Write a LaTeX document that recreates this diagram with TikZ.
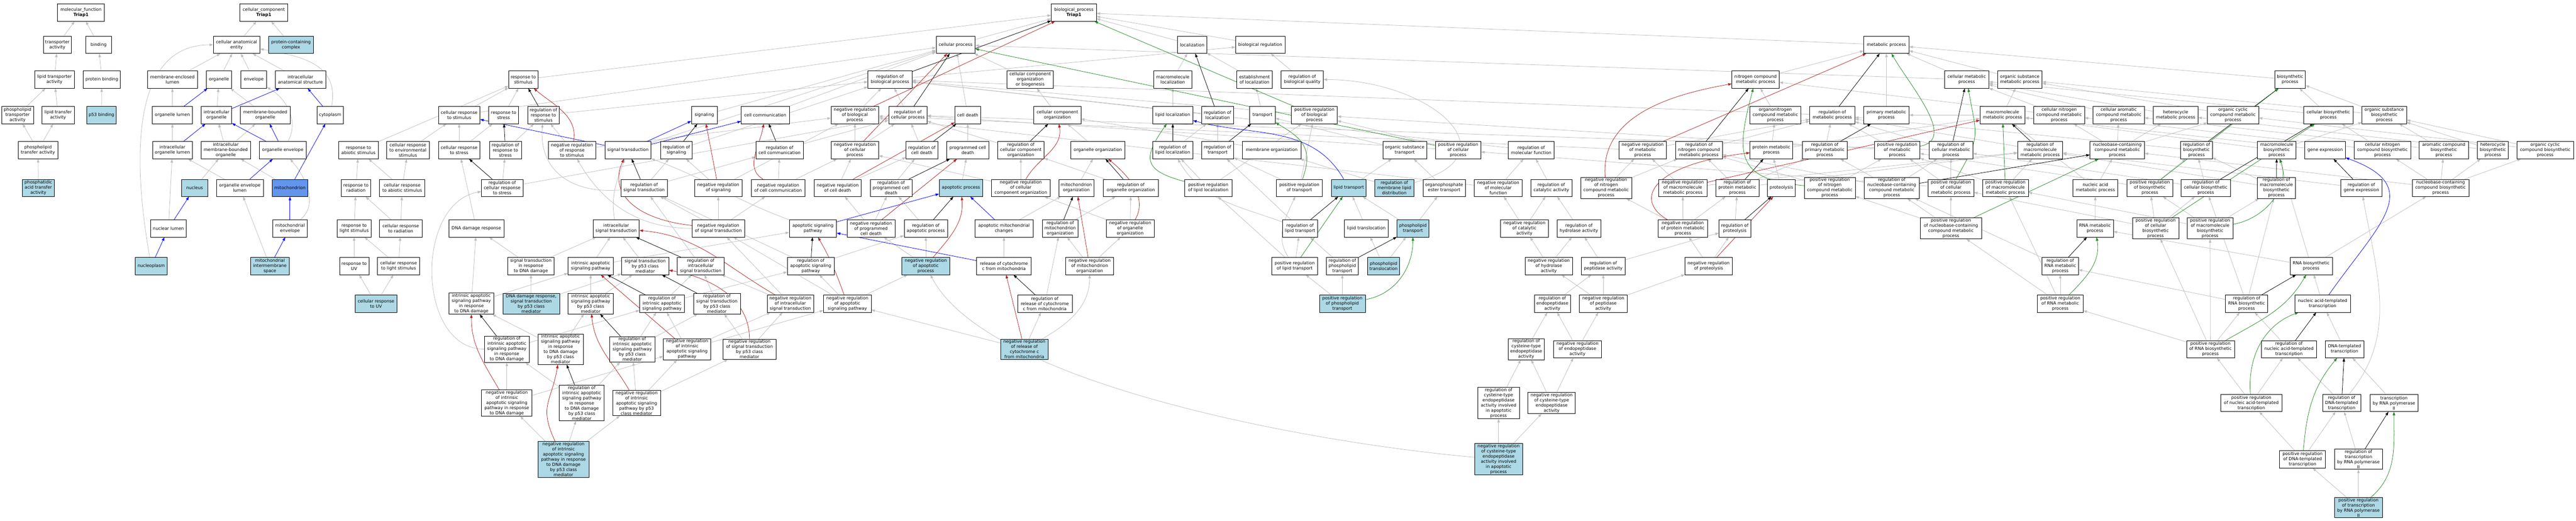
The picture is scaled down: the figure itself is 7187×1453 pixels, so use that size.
\documentclass[tikz,border=0pt]{standalone}
\usepackage{fontspec}
\setmainfont{DejaVu Sans}
\usetikzlibrary{arrows.meta}
\definecolor{hitblue}{RGB}{173,216,230}
\definecolor{focusblue}{RGB}{100,149,237}
\definecolor{isagray}{RGB}{190,190,190}
\definecolor{negred}{RGB}{178,34,34}
\definecolor{posgreen}{RGB}{34,139,34}
\pgfdeclarelayer{back}
\pgfsetlayers{back,main}

\begin{document}
\begin{tikzpicture}[x=1pt, y=-1pt,
    term/.style={rectangle, draw=black, line width=0.9pt, fill=white, align=center,
        inner xsep=3pt, inner ysep=2pt, minimum height=48pt, minimum width=#1,
        font=\fontsize{12}{14.4}\selectfont},
    term/.default=80,
    hit/.style={term=#1, fill=hitblue},
    hit/.default=80,
    focusterm/.style={term=#1, fill=focusblue},
    link/.style={line width=1.1pt, -{Triangle[length=10pt,width=7pt]}},
    isa/.style={link, draw=isagray},
    partof/.style={link, draw=blue},
    regl/.style={link, draw=black},
    negreg/.style={link, draw=negred},
    posreg/.style={link, draw=posgreen}]
\useasboundingbox (0,0) rectangle (7187,1453);

% roots
\node[term=131] (mf) at (226,35) {molecular\_function\\\textbf{Triap1}};
\node[term=134] (cc) at (736,35) {cellular\_component\\\textbf{Triap1}};
\node[term=126] (bp) at (2996,35) {biological\_process\\\textbf{Triap1}};

% rank 2
\node[term=79] (ta) at (160,125) {transporter\\activity};
\node[term=72] (bnd) at (275,125) {binding};
\node[term=130] (cae) at (660,125) {cellular anatomical\\entity};
\node[hit=125] (pcc) at (812,125) {protein-containing\\complex};
\node[term=109] (cp) at (2666,125) {cellular process};
\node[term=81] (loc) at (3326,125) {localization};
\node[term=138] (breg) at (3516,125) {biological regulation};
\node[term=126] (mp) at (5263,125) {metabolic process};

% rank 3
\node[term=111] (lta) at (152,222) {lipid transporter\\activity};
\node[term=103] (pb) at (284,222) {protein binding};
\node[term=139] (mel) at (481,222) {membrane-enclosed\\lumen};
\node[term=71] (org) at (611,222) {organelle};
\node[term=72] (env) at (708,222) {envelope};
\node[term=141] (ias) at (838,222) {intracellular\\anatomical structure};
\node[term=82] (rst) at (1460,222) {response to\\stimulus};
\node[term=123] (rbp) at (2483,222) {regulation of\\biological process};
\node[term=130] (ccob) at (2874,222) {cellular component\\organization\\or biogenesis};
\node[term=106] (mloc) at (3272,222) {macromolecule\\localization};
\node[term=99] (eloc) at (3500,222) {establishment\\of localization};
\node[term=118] (rbq) at (3633,222) {regulation of\\biological quality};
\node[term=132] (ncmp) at (4898,222) {nitrogen compound\\metabolic process};
\node[term=124] (cmp) at (5487,222) {cellular metabolic\\process};
\node[term=125] (osmp) at (5635,222) {organic substance\\metabolic process};
\node[term=86] (bsp) at (6389,222) {biosynthetic\\process};

% rank 4
\node[term=89] (pta) at (49,321) {phospholipid\\transporter\\activity};
\node[term=90] (lfa) at (162,321) {lipid transfer\\activity};
\node[hit=83] (p53b) at (283,321) {p53 binding};
\node[term=112] (ol) at (481,321) {organelle lumen};
\node[term=85] (io) at (604,321) {intracellular\\organelle};
\node[term=139] (mbo) at (740,321) {membrane-bounded\\organelle};
\node[term=74] (cyt) at (921,321) {cytoplasm};
\node[term=116] (crs) at (1281,321) {cellular response\\to stimulus};
\node[term=83] (rstr) at (1405,321) {response to\\stress};
\node[term=88] (rrs) at (1516,321) {regulation of\\response to\\stimulus};
\node[term=72] (sig) at (1965,321) {signaling};
\node[term=134] (ccom) at (2135,321) {cell communication};
\node[term=133] (nrbp) at (2385,321) {negative regulation\\of biological\\process};
\node[term=107] (rcp) at (2533,321) {regulation of\\cellular process};
\node[term=72] (cd) at (2700,321) {cell death};
\node[term=131] (cco) at (2950,321) {cellular component\\organization};
\node[term=112] (lloc) at (3272,321) {lipid localization};
\node[term=90] (rloc) at (3397,321) {regulation of\\localization};
\node[term=72] (tr) at (3522,321) {transport};
\node[term=128] (prbp) at (3667,321) {positive regulation\\of biological\\process};
\node[term=142] (oncmp) at (4953,321) {organonitrogen\\compound metabolic\\process};
\node[term=126] (rmp) at (5112,321) {regulation of\\metabolic process};
\node[term=127] (pmp) at (5263,321) {primary metabolic\\process};
\node[term=126] (mmp) at (5587,321) {macromolecule\\metabolic process};
\node[term=141] (cncmp) at (5745,321) {cellular nitrogen\\compound metabolic\\process};
\node[term=143] (cacmp) at (5911,321) {cellular aromatic\\compound metabolic\\process};
\node[term=125] (hmp) at (6070,321) {heterocycle\\metabolic process};
\node[term=143] (occmp) at (6230,321) {organic cyclic\\compound metabolic\\process};
\node[term=138] (cbp) at (6496,321) {cellular biosynthetic\\process};
\node[term=124] (osbp) at (6652,321) {organic substance\\biosynthetic\\process};

% rank 5
\node[term=110] (pfa) at (106,419) {phospholipid\\transfer activity};
\node[term=110] (iol) at (481,419) {intracellular\\organelle lumen};
\node[term=138] (imbo) at (630,419) {intracellular\\membrane-bounded\\organelle};
\node[term=131] (oe) at (789,419) {organelle envelope};
\node[term=110] (ras) at (1000,419) {response to\\abiotic stimulus};
\node[term=119] (cres) at (1138,419) {cellular response\\to environmental\\stimulus};
\node[term=116] (crst) at (1281,419) {cellular response\\to stress};
\node[term=89] (rrstr) at (1410,419) {regulation of\\response to\\stress};
\node[term=132] (nrrs) at (1596,419) {negative regulation\\of response\\to stimulus};
\node[term=129] (st) at (1752,419) {signal transduction};
\node[term=88] (rsig) at (1887,419) {regulation of\\signaling};
\node[term=133] (rcc) at (2175,419) {regulation of\\cell communication};
\node[term=133] (nrcp) at (2385,419) {negative regulation\\of cellular\\process};
\node[term=88] (rcd) at (2572,419) {regulation of\\cell death};
\node[term=117] (pcd) at (2700,419) {programmed cell\\death};
\node[term=130] (rcco) at (2848,419) {regulation of\\cellular component\\organization};
\node[term=151] (oo) at (3063,419) {organelle organization};
\node[term=112] (rlloc) at (3272,419) {regulation of\\lipid localization};
\node[term=90] (rtr) at (3397,419) {regulation of\\transport};
\node[term=163] (mo) at (3548,419) {membrane organization};
\node[term=122] (ost) at (3919,419) {organic substance\\transport};
\node[term=127] (prcp) at (4068,419) {positive regulation\\of cellular\\process};
\node[term=128] (rmf) at (4272,419) {regulation of\\molecular function};
\node[term=133] (nrmp) at (4583,419) {negative regulation\\of metabolic\\process};
\node[term=130] (rncmp) at (4740,419) {regulation of\\nitrogen compound\\metabolic process};
\node[term=119] (protmp) at (4942,419) {protein metabolic\\process};
\node[term=126] (rpmp) at (5091,419) {regulation of\\primary metabolic\\process};
\node[term=127] (prmp) at (5293,419) {positive regulation\\of metabolic\\process};
\node[term=122] (rcmp) at (5443,419) {regulation of\\cellular metabolic\\process};
\node[term=126] (rmmp) at (5692,419) {regulation of\\macromolecule\\metabolic process};
\node[term=152] (nccmp) at (5907,419) {nucleobase-containing\\compound metabolic\\process};
\node[term=88] (rbsp) at (6128,419) {regulation of\\biosynthetic\\process};
\node[term=108] (mbsp) at (6352,419) {macromolecule\\biosynthetic\\process};
\node[term=113] (ge) at (6487,419) {gene expression};
\node[term=157] (cncbp) at (6647,419) {cellular nitrogen\\compound biosynthetic\\process};
\node[term=137] (acbp) at (6818,419) {aromatic compound\\biosynthetic\\process};
\node[term=86] (hbp) at (6955,419) {heterocycle\\biosynthetic\\process};
\node[term=158] (occbp) at (7101,419) {organic cyclic\\compound biosynthetic\\process};

% rank 6
\node[hit=90] (patfa) at (107,524) {phosphatidic\\acid transfer\\activity};
\node[hit=72] (nuc) at (543,524) {nucleus};
\node[term=131] (oel) at (669,524) {organelle envelope\\lumen};
\node[focusterm=99] (mito) at (809,524) {mitochondrion};
\node[term=82] (rrad) at (993,524) {response to\\radiation};
\node[term=126] (cras) at (1122,524) {cellular response\\to abiotic stimulus};
\node[term=116] (rcrs) at (1401,524) {regulation of\\cellular response\\to stress};
\node[term=130] (rsigt) at (1797,524) {regulation of\\signal transduction};
\node[term=132] (nrsig) at (2004,524) {negative regulation\\of signaling};
\node[term=150] (nrcc) at (2171,524) {negative regulation\\of cell communication};
\node[term=132] (nrcd) at (2337,524) {negative regulation\\of cell death};
\node[term=117] (rpcd) at (2486,524) {regulation of\\programmed cell\\death};
\node[hit=121] (ap) at (2681,524) {apoptotic process};
\node[term=164] (nrcco) at (2848,524) {negative regulation\\of cellular\\component organization};
\node[term=98] (mio) at (3003,524) {mitochondrion\\organization};
\node[term=153] (roo) at (3155,524) {regulation of\\organelle organization};
\node[term=132] (prlloc) at (3371,524) {positive regulation\\of lipid localization};
\node[term=128] (prtr) at (3625,524) {positive regulation\\of transport};
\node[hit=97] (lt) at (3763,524) {lipid transport};
\node[hit=109] (rmld) at (3890,524) {regulation of\\membrane lipid\\distribution};
\node[term=118] (oet) at (4029,524) {organophosphate\\ester transport};
\node[term=133] (nrmf) at (4180,524) {negative regulation\\of molecular\\function};
\node[term=115] (rca) at (4328,524) {regulation of\\catalytic activity};
\node[term=142] (nrncmp) at (4481,524) {negative regulation\\of nitrogen\\compound metabolic\\process};
\node[term=134] (nrmmp) at (4695,524) {negative regulation\\of macromolecule\\metabolic process};
\node[term=121] (rprotmp) at (4847,524) {regulation of\\protein metabolic\\process};
\node[term=78] (prot) at (4970,524) {proteolysis};
\node[term=142] (prncmp) at (5105,524) {positive regulation\\of nitrogen\\compound metabolic\\process};
\node[term=153] (rnccmp) at (5278,524) {regulation of\\nucleobase-containing\\compound metabolic\\process};
\node[term=128] (prcmp) at (5443,524) {positive regulation\\of cellular\\metabolic process};
\node[term=128] (prmmp) at (5595,524) {positive regulation\\of macromolecule\\metabolic process};
\node[term=125] (namp) at (5846,524) {nucleic acid\\metabolic process};
\node[term=127] (prbsp) at (5998,524) {positive regulation\\of biosynthetic\\process};
\node[term=139] (rcbp) at (6154,524) {regulation of\\cellular biosynthetic\\process};
\node[term=107] (rmbsp) at (6351,524) {regulation of\\macromolecule\\biosynthetic\\process};
\node[term=114] (rge) at (6588,524) {regulation of\\gene expression};
\node[term=158] (ncbp) at (6809,524) {nucleobase-containing\\compound biosynthetic\\process};

% rank 7
\node[term=99] (nl) at (470,637) {nuclear lumen};
\node[term=96] (menv) at (809,637) {mitochondrial\\envelope};
\node[term=94] (rls) at (988,637) {response to\\light stimulus};
\node[term=118] (crrad) at (1118,637) {cellular response\\to radiation};
\node[term=154] (ddr) at (1329,637) {DNA damage response};
\node[term=129] (ist) at (1719,637) {intracellular\\signal transduction};
\node[term=146] (nrst) at (2004,637) {negative regulation\\of signal transduction};
\node[term=132] (asp) at (2268,637) {apoptotic signaling\\pathway};
\node[term=134] (nrpcd) at (2430,637) {negative regulation\\of programmed\\cell death};
\node[term=121] (rap) at (2583,637) {regulation of\\apoptotic process};
\node[term=162] (amc) at (2801,637) {apoptotic mitochondrial\\changes};
\node[term=100] (rmio) at (2958,637) {regulation of\\mitochondrion\\organization};
\node[term=133] (nroo) at (3153,637) {negative regulation\\of organelle\\organization};
\node[term=97] (rlt) at (3627,637) {regulation of\\lipid transport};
\node[term=122] (ltl) at (3812,637) {lipid translocation};
\node[hit=89] (plt) at (3942,637) {phospholipid\\transport};
\node[term=133] (nrca) at (4253,637) {negative regulation\\of catalytic\\activity};
\node[term=123] (rha) at (4405,637) {regulation of\\hydrolase activity};
\node[term=139] (nrprotmp) at (4695,637) {negative regulation\\of protein metabolic\\process};
\node[term=88] (rprot) at (4840,637) {regulation of\\proteolysis};
\node[term=171] (prnccmp) at (5443,637) {positive regulation\\of nucleobase-containing\\compound metabolic\\process};
\node[term=102] (rnamp) at (5845,637) {RNA metabolic\\process};
\node[term=129] (prcbp) at (6014,637) {positive regulation\\of cellular\\biosynthetic\\process};
\node[term=128] (prmbsp) at (6166,637) {positive regulation\\of macromolecule\\biosynthetic\\process};

% rank 8
\node[hit=89] (npl) at (422,742) {nucleoplasm};
\node[hit=108] (mis) at (753,742) {mitochondrial\\intermembrane\\space};
\node[term=82] (ruv) at (988,742) {response to\\UV};
\node[term=118] (crls) at (1112,742) {cellular response\\to light stimulus};
\node[term=130] (stdd) at (1481,742) {signal transduction\\in response\\to DNA damage};
\node[term=126] (iasp) at (1648,742) {intrinsic apoptotic\\signaling pathway};
\node[term=132] (stp53) at (1800,742) {signal transduction\\by p53 class\\mediator};
\node[term=131] (rist) at (1955,742) {regulation of\\intracellular\\signal transduction};
\node[term=131] (rasp) at (2262,742) {regulation of\\apoptotic signaling\\pathway};
\node[hit=133] (nrap) at (2583,742) {negative regulation\\of apoptotic\\process};
\node[term=152] (rcyc) at (2801,742) {release of cytochrome\\c from mitochondria};
\node[term=133] (nrmio) at (3040,742) {negative regulation\\of mitochondrion\\organization};
\node[term=128] (prlt) at (3612,742) {positive regulation\\of lipid transport};
\node[term=90] (rplt) at (3745,742) {regulation of\\phospholipid\\transport};
\node[hit=90] (pltl) at (3860,742) {phospholipid\\translocation};
\node[term=133] (nrha) at (4321,742) {negative regulation\\of hydrolase\\activity};
\node[term=122] (rpa) at (4473,742) {regulation of\\peptidase activity};
\node[term=132] (nrprot) at (4767,742) {negative regulation\\of proteolysis};
\node[term=102] (rrnamp) at (5748,742) {regulation of\\RNA metabolic\\process};
\node[term=118] (rnabsp) at (6448,742) {RNA biosynthetic\\process};

% rank 9
\node[hit=116] (cruv) at (1049,847) {cellular response\\to UV};
\node[term=126] (iaspdd) at (1315,847) {intrinsic apoptotic\\signaling pathway\\in response\\to DNA damage};
\node[hit=158] (ddrp53) at (1482,847) {DNA damage response,\\signal transduction\\by p53 class\\mediator};
\node[term=126] (iaspp53) at (1648,847) {intrinsic apoptotic\\signaling pathway\\by p53 class\\mediator};
\node[term=125] (riasp) at (1847,847) {regulation of\\intrinsic apoptotic\\signaling pathway};
\node[term=131] (rstp53) at (2000,847) {regulation of\\signal transduction\\by p53 class\\mediator};
\node[term=130] (nrist) at (2205,847) {negative regulation\\of intracellular\\signal transduction};
\node[term=133] (nrasp) at (2364,847) {negative regulation\\of apoptotic\\signaling pathway};
\node[term=152] (rrcyc) at (2915,847) {regulation of\\release of cytochrome\\c from mitochondria};
\node[hit=128] (prplt) at (3745,847) {positive regulation\\of phospholipid\\transport};
\node[term=101] (repa) at (4331,847) {regulation of\\endopeptidase\\activity};
\node[term=133] (nrpa) at (4473,847) {negative regulation\\of peptidase\\activity};
\node[term=128] (prrnamp) at (5748,847) {positive regulation\\of RNA metabolic\\process};
\node[term=118] (rrnabsp) at (6268,847) {regulation of\\RNA biosynthetic\\process};
\node[term=155] (natt) at (6480,847) {nucleic acid-templated\\transcription};

% rank 10
\node[term=124] (riaspdd) at (1414,974) {regulation of\\intrinsic apoptotic\\signaling pathway\\in response\\to DNA damage};
\node[term=126] (iaspddp53) at (1564,974) {intrinsic apoptotic\\signaling pathway\\in response\\to DNA damage\\by p53 class\\mediator};
\node[term=126] (riaspp53) at (1764,974) {regulation of\\intrinsic apoptotic\\signaling pathway\\by p53 class\\mediator};
\node[term=132] (nriasp) at (1917,974) {negative regulation\\of intrinsic\\apoptotic signaling\\pathway};
\node[term=147] (nrstp53) at (2091,974) {negative regulation\\of signal transduction\\by p53 class\\mediator};
\node[hit=133] (nrrcyc) at (2858,974) {negative regulation\\of release of\\cytochrome c\\from mitochondria};
\node[term=101] (rcepa) at (4258,974) {regulation of\\cysteine-type\\endopeptidase\\activity};
\node[term=134] (nrepa) at (4401,974) {negative regulation\\of endopeptidase\\activity};
\node[term=134] (prrnabsp) at (6167,974) {positive regulation\\of RNA biosynthetic\\process};
\node[term=155] (rnatt) at (6386,974) {regulation of\\nucleic acid-templated\\transcription};
\node[term=107] (dtt) at (6541,974) {DNA-templated\\transcription};

% rank 11
\node[term=141] (nriaspdd) at (1414,1124) {negative regulation\\of intrinsic\\apoptotic signaling\\pathway in response\\to DNA damage};
\node[term=125] (riaspddp53) at (1623,1124) {regulation of\\intrinsic apoptotic\\signaling pathway\\in response\\to DNA damage\\by p53 class\\mediator};
\node[term=133] (nriaspp53) at (1776,1124) {negative regulation\\of intrinsic\\apoptotic signaling\\pathway by p53\\class mediator};
\node[term=116] (rcepaap) at (4181,1124) {regulation of\\cysteine-type\\endopeptidase\\activity involved\\in apoptotic\\process};
\node[term=132] (nrcepa) at (4329,1124) {negative regulation\\of cysteine-type\\endopeptidase\\activity};
\node[term=171] (prnatt) at (6281,1124) {positive regulation\\of nucleic acid-templated\\transcription};
\node[term=106] (rdtt) at (6533,1124) {regulation of\\DNA-templated\\transcription};
\node[term=134] (trp2) at (6679,1124) {transcription\\by RNA polymerase\\II};

% rank 12
\node[hit=142] (nriaspddp53) at (1572,1281) {negative regulation\\of intrinsic\\apoptotic signaling\\pathway in response\\to DNA damage\\by p53 class\\mediator};
\node[hit=133] (nrcepaap) at (4181,1281) {negative regulation\\of cysteine-type\\endopeptidase\\activity involved\\in apoptotic\\process};
\node[term=128] (prdtt) at (6424,1281) {positive regulation\\of DNA-templated\\transcription};
\node[term=134] (rtrp2) at (6580,1281) {regulation of\\transcription\\by RNA polymerase\\II};

% rank 13
\node[hit=134] (prtrp2) at (6580,1416) {positive regulation\\of transcription\\by RNA polymerase\\II};

\begin{pgfonlayer}{back}
\fill[white] (0,0) rectangle (7187,1453);

% is_a
\foreach \c/\p in {ta/mf, bnd/mf, lta/ta, pb/bnd, pta/lta, lfa/lta, p53b/pb, pfa/pta, pfa/lfa, patfa/pfa,
    cae/cc, pcc/cc, mel/cae, org/cae, env/cae, ias/cae, ol/mel, io/org, mbo/org, iol/ol, imbo/io, imbo/mbo,
    nuc/imbo, oel/iol, mito/imbo, nl/iol, mis/oel}
  \draw[isa] (\c) -- (\p);
\foreach \c/\p in {rst/bp, crs/rst, crs/cp, rstr/rst, rrs/rbp, ras/rst, cres/crs, crst/crs, crst/rstr,
    rrstr/rrs, nrrs/rrs, nrrs/nrbp, cras/ras, cras/cres, rrad/ras, crrad/rrad, crrad/cras, rls/rrad,
    crls/rls, crls/crrad, ruv/rls, cruv/ruv, cruv/crls, rcrs/rrstr, rcrs/rcp, ddr/crst}
  \draw[isa] (\c) -- (\p);
\foreach \c/\p in {st/cp, sig/cp, ccom/cp, rsig/rbp, rcc/rcp, rsigt/rsig, rsigt/rcc, nrsig/rsig, nrsig/nrbp,
    nrcc/rcc, nrcc/nrcp, nrst/rsigt, nrst/nrsig, nrst/nrcc, stdd/ddr, stdd/ist, iasp/ist, iasp/asp,
    stp53/ist, rist/rsigt, iaspdd/ddr, iaspdd/iasp, ddrp53/stdd, ddrp53/stp53, iaspp53/iasp, iaspp53/stp53,
    riasp/rasp, riasp/rist, rstp53/rist, nrist/rist, nrist/nrst, riaspdd/riasp, iaspddp53/iaspdd,
    iaspddp53/iaspp53, riaspp53/riasp, riaspp53/rstp53, nriasp/riasp, nriasp/nrasp, nriasp/nrist,
    nrstp53/rstp53, nrstp53/nrist, nriaspdd/riaspdd, nriaspdd/nriasp, riaspddp53/riaspdd,
    riaspddp53/riaspp53, nriaspp53/riaspp53, nriaspp53/nriasp, nriaspp53/nrstp53,
    nriaspddp53/nriaspdd, nriaspddp53/riaspddp53, nriaspddp53/nriaspp53, rasp/rsigt, nrasp/nrst}
  \draw[isa] (\c) -- (\p);
\foreach \c/\p in {cp/bp, rbp/breg, ccob/cp, nrbp/rbp, rcp/rbp, cd/cp, cco/ccob, nrcp/nrbp, nrcp/rcp,
    rcd/rcp, pcd/cd, rcco/rcp, oo/cco, nrcd/rcd, nrcd/nrcp, rpcd/rcd, ap/pcd, nrcco/rcco, nrcco/nrcp,
    mio/oo, roo/rcco, nrpcd/rpcd, nrpcd/nrcd, rap/rpcd, amc/mio, rmio/roo, nroo/roo, nroo/nrcco,
    rasp/rap, nrap/rap, nrap/nrpcd, rcyc/amc, nrmio/rmio, nrmio/nroo, nrasp/rasp, nrasp/nrap,
    rrcyc/rmio, nrrcyc/rrcyc, nrrcyc/nrasp}
  \draw[isa] (\c) -- (\p);
\foreach \c/\p in {loc/bp, breg/bp, mloc/loc, eloc/loc, rbq/breg, lloc/mloc, rloc/rbp, tr/eloc, prbp/rbp,
    rlloc/rloc, rtr/rloc, mo/cco, ost/tr, prcp/prbp, prcp/rcp, rmf/rbp, prlloc/rlloc, prlloc/prbp,
    prtr/rtr, prtr/prbp, lt/ost, rmld/mo, oet/ost, nrmf/rmf, nrmf/nrbp, rca/rmf, rlt/rtr, ltl/lt, plt/lt,
    plt/oet, nrca/rca, nrca/nrmf, rha/rca, prlt/rlt, prlt/prlloc, rplt/rlt, pltl/plt, pltl/ltl, nrha/rha,
    nrha/nrca, rpa/rha, rpa/rprot, nrprot/rprot, nrprot/nrprotmp, prplt/rplt, prplt/prlt, repa/rpa,
    nrpa/rpa, nrpa/nrha, nrpa/nrprot, rcepa/repa, nrepa/repa, nrepa/nrpa, rcepaap/rcepa, nrcepa/rcepa,
    nrcepa/nrepa, nrcepaap/rcepaap, nrcepaap/nrcepa}
  \draw[isa] (\c) -- (\p);
\foreach \c/\p in {mp/bp, ncmp/mp, oncmp/ncmp, rmp/rbp, pmp/mp, nrmp/rmp, nrmp/nrbp, rncmp/rmp,
    protmp/oncmp, protmp/mmp, rpmp/rmp, prmp/rmp, prmp/prbp, nrncmp/rncmp, nrncmp/nrmp, nrmmp/nrmp,
    nrmmp/rmmp, rprotmp/rmmp, rprotmp/rncmp, rprotmp/rpmp, prot/protmp, prncmp/rncmp, prncmp/prmp,
    rnccmp/rcmp, rnccmp/rncmp, rnccmp/rpmp, nrprotmp/rprotmp, nrprotmp/nrmmp, nrprotmp/nrncmp,
    rprot/rprotmp, prnccmp/rnccmp, prnccmp/prncmp, prnccmp/prcmp, cmp/mp, cmp/cp, osmp/mp, bsp/mp,
    mmp/osmp, mmp/pmp, cncmp/ncmp, cncmp/cmp, cacmp/cmp, hmp/cmp, occmp/osmp, cbp/bsp, cbp/cmp,
    osbp/bsp, osbp/osmp, rcmp/rmp, rcmp/rcp, rmmp/rmp, nccmp/cncmp, nccmp/cacmp, nccmp/hmp,
    nccmp/occmp, rbsp/rmp, mbsp/mmp, mbsp/osbp, ge/mmp, cncbp/cbp, cncbp/cncmp, acbp/cacmp, acbp/osbp,
    hbp/hmp, hbp/osbp, occbp/occmp, occbp/osbp}
  \draw[isa] (\c) -- (\p);
\foreach \c/\p in {prcmp/rcmp, prcmp/prmp, prcmp/prcp, prmmp/rmmp, prmmp/prmp, namp/nccmp, namp/mmp,
    prbsp/rbsp, prbsp/prmp, rcbp/rbsp, rcbp/rcmp, rmbsp/rbsp, rmbsp/rmmp, rge/rmmp, ncbp/nccmp,
    ncbp/cncbp, ncbp/acbp, ncbp/hbp, ncbp/occbp, rnamp/namp, prcbp/rcbp, prcbp/prbsp, prcbp/prcmp,
    prmbsp/rmbsp, prmbsp/prbsp, prmbsp/prmmp, rrnamp/rnccmp, rnabsp/rnamp, rnabsp/ncbp, rnabsp/mbsp,
    prrnamp/rrnamp, prrnamp/prnccmp, prrnamp/prmmp, rrnabsp/rrnamp, rrnabsp/rcbp, rrnabsp/rmbsp,
    natt/rnabsp, prrnabsp/rrnabsp, prrnabsp/prrnamp, prrnabsp/prcbp, prrnabsp/prmbsp, rnatt/rrnabsp,
    dtt/natt, prnatt/rnatt, prnatt/prrnabsp, rdtt/rnatt, trp2/dtt, prdtt/rdtt, prdtt/prnatt,
    rtrp2/rdtt, prtrp2/rtrp2, prtrp2/prdtt}
  \draw[isa] (\c) -- (\p);
% curved is_a
\draw[isa] (npl) to[out=100,in=180] (cae);
\draw[isa] (cyt) to[out=80,in=-10,looseness=1.2] (cae);
\draw[isa] (oe) to[out=60,in=-30] (env);
\draw[isa] (menv) to[out=40,in=-50] (oe);
\draw[isa] (riaspdd) to[out=180,in=190,looseness=1.1] (rcrs);
\draw[isa] (rsigt) to[out=185,in=-95,looseness=1.2] (rrs);
\draw[isa] (nrst) to[out=180,in=-60] (nrrs);
\draw[isa] (asp) to[out=160,in=-20] (st);
\draw[isa] (ist) to[out=100,in=-110] (st);
\draw[isa] (rlt) to[out=160,in=-60] (rlloc);
\draw[isa] (prlt) to[out=125,in=-115] (prtr);
\draw[isa] (rmld) to[out=15,in=0,looseness=2] (rbq);
\draw[isa] (rdtt) to[out=50,in=-80] (rge);
\draw[isa] (nrrcyc) to[out=30,in=-90] (nrmio);
\draw[isa] (nrcepaap) .. controls (3700,1240) and (2760,1080) .. (nrap);

% part_of
\foreach \c/\p in {ol/org, io/ias, cyt/ias, iol/io, oe/io, oe/mbo, oel/oe, mito/cyt, nl/nuc, menv/mito,
    npl/nl, mis/menv, st/crs, st/sig, st/ccom, asp/ap, amc/ap, rcyc/asp}
  \draw[partof] (\c) -- (\p);
\draw[partof] (lt) to[out=120,in=-15] (lloc);
\draw[partof] (natt) to[out=55,in=-20,looseness=1.6] (ge);

% regulates
\foreach \c/\p in {rrs/rst, rrstr/rstr, rcrs/crst, rsig/sig, rcc/ccom, rsigt/st, rist/ist, riasp/iasp,
    rstp53/stp53, riaspdd/iaspdd, riaspp53/iaspp53, riaspddp53/iaspddp53, rbp/bp, rcp/cp, rcd/cd,
    rpcd/pcd, rcco/cco, roo/oo, rap/ap, rmio/mio, rasp/asp, rrcyc/rcyc, rloc/loc, rlloc/lloc, rtr/tr,
    rlt/lt, rplt/plt, rmp/mp, rncmp/ncmp, rpmp/pmp, rprotmp/protmp, rprot/prot, rnccmp/nccmp,
    rcmp/cmp, rmmp/mmp, rbsp/bsp, rcbp/cbp, rmbsp/mbsp, rge/ge, rrnamp/rnamp, rrnabsp/rnabsp,
    rnatt/natt, rdtt/dtt, rtrp2/trp2}
  \draw[regl] (\c) -- (\p);

% negatively regulates
\foreach \c/\p in {nrsig/sig, nriasp/iasp, nrbp/bp, nrcp/cp, nrcd/cd, nrpcd/pcd, nrmio/mio,
    nrrcyc/rcyc, nrmp/mp, nrmmp/mmp, nrprot/prot}
  \draw[negreg] (\c) -- (\p);
\draw[negreg] (nrst) .. controls (1760,610) and (1700,530) .. (st);
\draw[negreg] (nrrs) to[out=80,in=-40] (rst);
\draw[negreg] (nrcc) to[out=150,in=-100] (ccom);
\draw[negreg] (nrist) to[out=150,in=-5] (ist);
\draw[negreg] (nrstp53) to[out=90,in=-10] (stp53);
\draw[negreg] (nriaspdd) to[out=120,in=-90] (iaspdd);
\draw[negreg] (nriaspp53) to[out=120,in=-85] (iaspp53);
\draw[negreg] (nriaspddp53) to[out=115,in=-100,looseness=1.3] (iaspddp53);
\draw[negreg] (nrap) to[out=50,in=-85] (ap);
\draw[negreg] (nrasp) to[out=110,in=-60] (asp);
\draw[negreg] (nroo) to[out=60,in=-40] (oo);
\draw[negreg] (nrcco) to[out=60,in=-80] (cco);
\draw[negreg] (nrncmp) to[out=95,in=190] (ncmp);
\draw[negreg] (nrprotmp) .. controls (4560,560) and (4600,460) .. (protmp);

% positively regulates
\foreach \c/\p in {prbp/bp, prcp/cp, prlt/lt, prnccmp/nccmp, prmmp/mmp, prbsp/bsp, prcbp/cbp}
  \draw[posreg] (\c) -- (\p);
\draw[posreg] (prmp) to[out=10,in=-60] (mp);
\draw[posreg] (prncmp) to[out=175,in=-105,looseness=1.6] (ncmp);
\draw[posreg] (prcmp) to[out=60,in=-80,looseness=1.4] (cmp);
\draw[posreg] (prlloc) to[out=165,in=-125,looseness=1.8] (lloc);
\draw[posreg] (prtr) to[out=70,in=-30,looseness=1.3] (tr);
\draw[posreg] (prplt) to[out=10,in=-90] (plt);
\draw[posreg] (prmbsp) to[out=10,in=-70] (mbsp);
\draw[posreg] (prrnamp) to[out=45,in=-80] (rnamp);
\draw[posreg] (prrnabsp) to[out=30,in=-120] (rnabsp);
\draw[posreg] (prnatt) to[out=95,in=200] (natt);
\draw[posreg] (prdtt) to[out=85,in=-130] (dtt);
\draw[posreg] (prtrp2) to[out=40,in=-90] (trp2);
\end{pgfonlayer}
\end{tikzpicture}
\end{document}
